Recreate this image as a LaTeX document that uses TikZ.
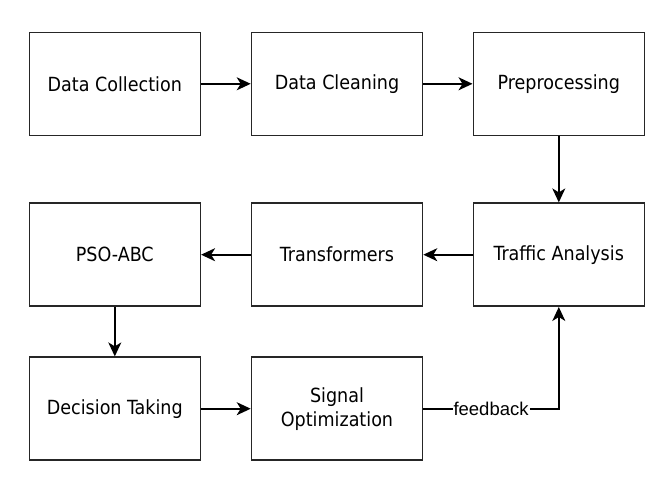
\documentclass[tikz,border=0pt]{standalone}
\usepackage{fontspec}
\setmainfont{DejaVu Sans Condensed}
\newfontfamily\lblfont{Liberation Sans}
\usetikzlibrary{arrows.meta}
\begin{document}
\begin{tikzpicture}[x=1pt,y=-1pt,
  box/.style={draw=black!85, line width=1.6pt, minimum width=171pt, minimum height=103pt, inner sep=0pt, align=center, font=\fontsize{19.5}{24}\selectfont},
  flow/.style={line width=1.6pt, draw=black, -{Stealth[length=14pt,width=13pt,inset=4pt]}},
  lbl/.style={fill=white, inner sep=1pt, font=\lblfont\fontsize{18.5}{20}\selectfont}]
\useasboundingbox (0,0) rectangle (664,485);
\node[box] (dc) at (114.8,83.8) {Data Collection};
\node[box] (cl) at (337,83.8) {Data Cleaning};
\node[box] (pp) at (558.8,83.8) {Preprocessing};
\node[box] (pso) at (114.8,254.7) {PSO-ABC};
\node[box] (tr) at (337,254.7) {Transformers};
\node[box] (ta) at (558.8,254.7) {Traffic Analysis};
\node[box] (dt) at (114.8,408.7) {Decision Taking};
\node[box] (so) at (337,408.7) {Signal\\Optimization};
\draw[flow] (dc) -- (cl);
\draw[flow] (cl) -- (pp);
\draw[flow] (pp) -- (ta);
\draw[flow] (ta) -- (tr);
\draw[flow] (tr) -- (pso);
\draw[flow] (pso) -- (dt);
\draw[flow] (dt) -- (so);
\coordinate (fbc) at (so.east -| ta.south);
\draw[flow] (so.east) -- node[lbl] {feedback} (fbc) -- (ta.south);
\end{tikzpicture}
\end{document}
